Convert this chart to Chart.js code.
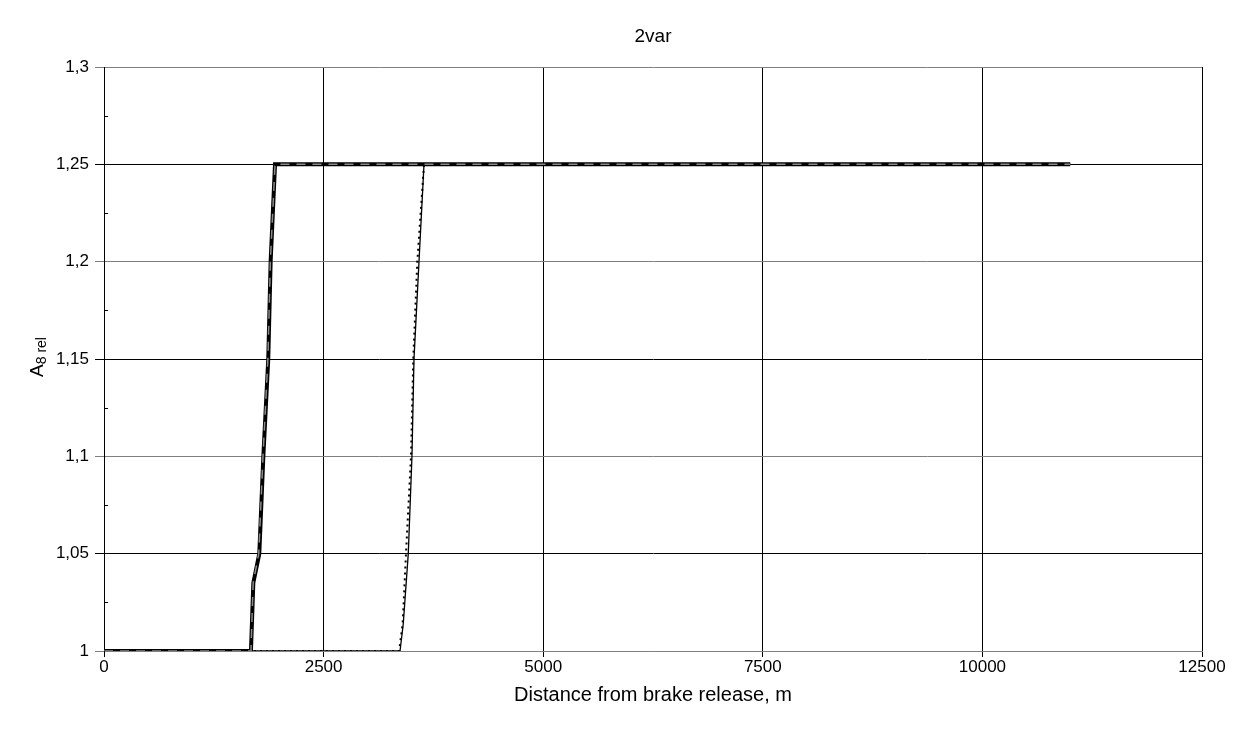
<!DOCTYPE html>
<html>
<head>
<meta charset="utf-8">
<title>2var</title>
<script src="https://cdn.jsdelivr.net/npm/chart.js@4.4.0/dist/chart.umd.min.js"></script>
<style>
    body { margin: 0; background: #fff; }
    canvas { display: block; }
</style>
</head>
<body>
<canvas id="chart" width="1244" height="737"></canvas>
<script>
// Data
const xTicks = [0, 2500, 5000, 7500, 10000, 12500];
const yTicks = [1, 1.05, 1.1, 1.15, 1.2, 1.25, 1.3];

const thickDist = [0, 1673, 1700, 1768, 1814, 1870, 1897, 1947, 11000];
const thickA8 = [1, 1, 1.035, 1.05, 1.1, 1.15, 1.2, 1.25, 1.25];

const dashedDist = [0, 1673, 1698, 1762, 1810, 1866, 1894, 1947, 11000];
const dashedA8 = [1, 1, 1.035, 1.05, 1.1, 1.15, 1.2, 1.25, 1.25];

const thinDist = [0, 3370, 3407, 3464, 3506, 3529, 3586, 3643, 11000];
const thinA8 = [1, 1, 1.014, 1.05, 1.1, 1.15, 1.2, 1.25, 1.25];

const dottedDist = [0, 3360, 3400, 3438, 3495, 3521, 3567, 3643, 11000];
const dottedA8 = [1, 1, 1.014, 1.05, 1.1, 1.15, 1.2, 1.25, 1.25];

function toPoints(xs, ys) {
    return xs.map((x, i) => ({ x: x, y: ys[i] }));
}

function fmtComma(v) {
    return String(+Number(v).toFixed(3)).replace('.', ',');
}

const FONT = "'Liberation Sans', Arial, sans-serif";

// title, y axis label with subscript, minor ticks on the y axis
const extras = {
    id: 'extras',
    afterDraw(chart) {
        const ctx = chart.ctx;
        const y = chart.scales.y;
        const area = chart.chartArea;

        ctx.save();
        ctx.strokeStyle = '#000';
        ctx.lineWidth = 1;
        for (let i = 0; i < yTicks.length - 1; i++) {
            const mid = (yTicks[i] + yTicks[i + 1]) / 2;
            const py = Math.round(y.getPixelForValue(mid)) + 0.5;
            ctx.beginPath();
            ctx.moveTo(area.left, py);
            ctx.lineTo(area.left + 4, py);
            ctx.stroke();
        }

        ctx.fillStyle = '#000';
        ctx.font = '19px ' + FONT;
        ctx.textAlign = 'center';
        ctx.textBaseline = 'middle';
        ctx.fillText('2var', (area.left + area.right) / 2, 37);

        // rotated "A8 rel"
        ctx.translate(36, 357);
        ctx.rotate(-Math.PI / 2);
        ctx.textAlign = 'left';
        ctx.textBaseline = 'alphabetic';
        ctx.font = '19px ' + FONT;
        const aW = ctx.measureText('A').width;
        ctx.font = '14px ' + FONT;
        const subW = ctx.measureText('8 rel').width;
        const start = -(aW + subW) / 2;
        ctx.font = '19px ' + FONT;
        ctx.fillText('A', start, 7);
        ctx.font = '14px ' + FONT;
        ctx.fillText('8 rel', start + aW, 10);
        ctx.restore();
    }
};

const ctx = document.getElementById('chart').getContext('2d');

const chart = new Chart(ctx, {
    type: 'line',
    data: {
        datasets: [
            {
                label: 'thick',
                data: toPoints(thickDist, thickA8),
                borderColor: '#000',
                borderWidth: 4,
                pointRadius: 0,
                order: 4
            },
            {
                label: 'dashed',
                data: toPoints(dashedDist, dashedA8),
                borderColor: '#8a8a8a',
                borderWidth: 1.5,
                borderDash: [9, 7],
                pointRadius: 0,
                order: 1
            },
            {
                label: 'thin',
                data: toPoints(thinDist, thinA8),
                borderColor: '#000',
                borderWidth: 1.3,
                pointRadius: 0,
                order: 3
            },
            {
                label: 'dotted',
                data: toPoints(dottedDist, dottedA8),
                borderColor: '#000',
                borderWidth: 2,
                borderDash: [2, 4],
                pointRadius: 0,
                order: 2
            }
        ]
    },
    options: {
        responsive: false,
        animation: false,
        layout: {
            padding: { left: 0, right: 42, top: 67, bottom: 30 }
        },
        plugins: {
            legend: { display: false },
            tooltip: { enabled: false }
        },
        elements: {
            line: { tension: 0, borderCapStyle: 'butt' }
        },
        scales: {
            x: {
                type: 'linear',
                min: xTicks[0],
                max: xTicks[xTicks.length - 1],
                afterBuildTicks: scale => { scale.ticks = xTicks.map(v => ({ value: v })); },
                afterFit: scale => { scale.height = 56; },
                grid: { color: '#000', lineWidth: 1, tickLength: 6 },
                border: { color: '#808080', width: 1 },
                ticks: {
                    color: '#000',
                    font: { family: FONT, size: 17 },
                    padding: 0,
                    maxRotation: 0,
                    callback: v => String(v)
                },
                title: {
                    display: true,
                    text: 'Distance from brake release, m',
                    color: '#000',
                    font: { family: FONT, size: 20 },
                    padding: { top: 10, bottom: 0 }
                }
            },
            y: {
                type: 'linear',
                min: yTicks[0],
                max: yTicks[yTicks.length - 1],
                afterBuildTicks: scale => { scale.ticks = yTicks.map(v => ({ value: v })); },
                afterFit: scale => { scale.width = 104; },
                grid: {
                    // alternate shades like the reference
                    color: c => (Math.round(c.tick.value * 100) % 10 === 5 ? '#000' : '#808080'),
                    lineWidth: 1,
                    tickLength: 9
                },
                border: { color: '#000', width: 1 },
                ticks: {
                    color: '#000',
                    font: { family: FONT, size: 17 },
                    padding: 6,
                    callback: v => fmtComma(v)
                }
            }
        }
    },
    plugins: [extras]
});
</script>
</body>
</html>
